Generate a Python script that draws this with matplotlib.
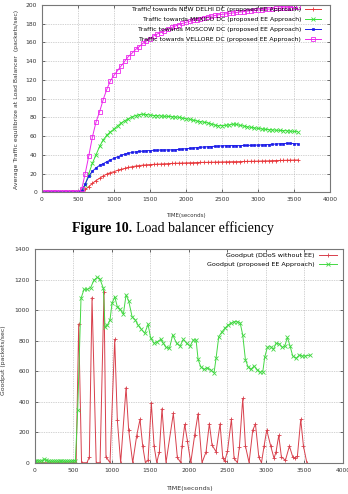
"""Load balancer efficiency (top) and goodput (bottom) over time."""

import numpy as np
from matplotlib import pyplot

# --- top panel: average traffic at the load balancer, sampled every 50 s ---
t_lb = np.arange(0, 3551, 50)
delhi = [0] * 11 + [
    0.5, 3, 6, 9.5, 12.5, 15, 17.5, 19.5, 21, 22,
    23.5, 24.5, 25.5, 26.5, 27.3, 28, 28.5, 29, 29.3, 29.6,
    29.8, 30, 30.2, 30.4, 30.6, 30.8, 31, 31.1, 31.2, 31.4,
    31.5, 31.6, 31.8, 31.9, 32, 32, 32.1, 32.2, 32.3, 32.4,
    32.5, 32.6, 32.7, 32.7, 32.8, 32.9, 33, 33.1, 33.2, 33.3,
    33.4, 33.5, 33.6, 33.8, 33.9, 34, 34.1, 34.2, 34.3, 34.4,
    34.5]
mexico = [0] * 11 + [
    2, 8, 20, 31, 40, 49, 56, 61, 64.5, 67.5,
    71, 74, 76.5, 78.5, 80.5, 82, 83, 83.3, 83, 82.5,
    82, 81.8, 81.5, 81.2, 81, 80.8, 80.5, 80, 79.3, 78.5,
    78, 77, 76.2, 75.5, 74.8, 74.2, 73, 71.8, 71.1, 71.2,
    71.5, 72, 72.8, 72.5, 71.5, 70.8, 70, 69.3, 68.8, 68.2,
    67.7, 67.2, 66.9, 66.6, 66.3, 66.1, 65.9, 65.7, 65.3, 65,
    64.7]
moscow = [0] * 11 + [
    1, 9, 17, 22.5, 26, 28.8, 30.5, 32.7, 34.5, 36.3,
    38, 39.3, 40.8, 41.8, 42.5, 43.2, 43.6, 44, 44.4, 44.6,
    44.8, 45, 45.2, 45.2, 45.3, 45.3, 45.4, 45.8, 46.3, 46.6,
    46.9, 47.4, 47.8, 48.1, 48.4, 48.7, 48.9, 49.1, 49.4, 49.6,
    49.8, 49.8, 49.9, 49.9, 49.8, 50, 50.1, 50.2, 50.4, 50.5,
    50.6, 50.8, 51, 51.3, 51.6, 51.8, 52, 52.3, 52.2, 52,
    51.8]
vellore = [0.5] * 11 + [
    3, 20, 39, 59, 75, 86, 99, 110, 119, 125,
    130, 135, 140, 145, 148.5, 152.5, 155.5, 159, 161.5, 164,
    167, 169, 170.5, 172, 174, 176, 177.5, 179, 180.3, 181.5,
    182.5, 183.5, 184.5, 185.5, 186.5, 187.3, 188, 188.8, 189.5, 190,
    190.5, 191, 191.5, 192, 192.5, 193, 193.5, 194, 194.3, 194.6,
    195, 195.3, 195.6, 196, 196.3, 196.6, 196.8, 197, 197.2, 197.4,
    197.5]

# --- bottom panel: goodput ---
t_ddos = [0, 100, 200, 300, 400, 500, 540, 573, 610, 680, 711, 746, 800,
          850, 901, 927, 979, 1040, 1074, 1117, 1187, 1221, 1273, 1325,
          1368, 1403, 1438, 1472, 1515, 1550, 1585, 1619, 1653, 1705, 1800,
          1852, 1896, 1913, 1948, 1983, 2026, 2077, 2121, 2172, 2224, 2267,
          2302, 2354, 2406, 2441, 2467, 2502, 2553, 2588, 2631, 2657, 2700,
          2735, 2782, 2830, 2865, 2909, 2943, 2977, 3011, 3063, 3106, 3132,
          3167, 3201, 3253, 3305, 3348, 3374, 3409, 3452, 3487, 3531]
gp_ddos = [0, 0, 0, 0, 0, 0, 0, 910, 0, 0, 37, 1083, 0,
           0, 1120, 39, 0, 809, 280, 0, 492, 214, 0, 177,
           284, 109, 0, 15, 391, 111, 0, 72, 354, 0, 323,
           35, 0, 109, 251, 142, 0, 182, 321, 0, 70, 256,
           116, 72, 254, 33, 11, 74, 286, 28, 0, 105, 422,
           109, 0, 214, 254, 35, 0, 111, 214, 109, 28, 72,
           179, 39, 15, 109, 39, 28, 44, 284, 109, 0]

t_ee = [0, 25, 50, 75, 100, 125, 150, 175, 200, 225, 250, 275, 300, 325,
        350, 375, 400, 425, 450, 475, 500, 530, 560, 603, 642, 685, 728,
        771, 815, 850, 893, 914, 945, 979, 1005, 1040, 1074, 1109, 1152,
        1187, 1221, 1265, 1308, 1342, 1386, 1429, 1472, 1507, 1550, 1593,
        1636, 1671, 1705, 1749, 1792, 1843, 1887, 1930, 1973, 2016, 2060,
        2095, 2121, 2155, 2198, 2241, 2285, 2328, 2354, 2389, 2432, 2467,
        2510, 2545, 2588, 2631, 2666, 2700, 2735, 2769, 2804, 2847, 2891,
        2925, 2960, 2986, 3020, 3063, 3098, 3132, 3176, 3210, 3245, 3279,
        3314, 3348, 3392, 3435, 3470, 3513, 3573]
gp_ee = [8, 10, 12, 10, 14, 22, 18, 12, 10, 10, 10, 10, 10, 10,
         10, 10, 10, 10, 10, 10, 10, 12, 345, 1078, 1137, 1137, 1148,
         1198, 1216, 1203, 1144, 892, 903, 936, 1045, 1089, 1023, 1006, 975,
         1100, 1063, 958, 936, 903, 875, 849, 908, 816, 783, 794,
         809, 783, 757, 750, 838, 783, 765, 809, 783, 765, 805,
         805, 678, 630, 612, 623, 608, 590, 685, 827, 860, 881,
         903, 914, 925, 925, 918, 838, 674, 630, 612, 634, 608,
         595, 597, 695, 757, 761, 744, 783, 779, 757, 765, 822,
         765, 700, 685, 706, 700, 700, 706]

W, H = 348, 494
pyplot.rc('font', family='DejaVu Sans', size=4.3)
fig = pyplot.figure(figsize=(W / 100, H / 100), dpi=100)


def style(ax):
    ax.grid(True, linestyle=(0, (1, 1.5)), color='#a8a8a8', linewidth=0.5)
    ax.tick_params(direction='in', top=True, right=True, length=2.5,
                   width=0.5, colors='#333333', pad=3.5)
    for s in ax.spines.values():
        s.set_color('#777777')
        s.set_linewidth(0.8)


# top panel
ax1 = fig.add_axes([42 / W, 1 - 192.3 / H, 288 / W, 187.3 / H])
style(ax1)
ax1.plot(t_lb, delhi, color='#e8383c', marker='+', ms=3.5, mew=0.6, lw=0.7,
         label='Traffic towards NEW DELHI DC (proposed EE Approach)')
ax1.plot(t_lb, mexico, color='#3ade3a', marker='x', ms=2.6, mew=0.6, lw=0.7,
         label='Traffic towards MEXICO DC (proposed EE Approach)')
ax1.plot(t_lb, moscow, color='#1c1ce8', marker='s', ms=1.8, mew=0.5, lw=0.7,
         label='Traffic towards MOSCOW DC (proposed EE Approach)')
ax1.plot(t_lb, vellore, color='#ec28ec', marker='s', ms=3.0, mew=0.6, lw=0.7,
         mfc='none', label='Traffic towards VELLORE DC (proposed EE Approach)')
ax1.set_xlim(0, 4000)
ax1.set_ylim(0, 200)
ax1.set_xticks(range(0, 4001, 500))
ax1.set_yticks(range(0, 201, 20))
ax1.legend(loc='upper right', bbox_to_anchor=(0.968, 0.99), frameon=False,
           markerfirst=False, numpoints=1, fontsize=4.4, handlelength=2.6,
           handletextpad=0.6, labelspacing=0.75, borderpad=0, borderaxespad=0)
fig.text(16.5 / W, 1 - 99 / H,
         'Average Traffic equilibrize at Load Balancer  (packets/sec)',
         rotation=90, ha='center', va='center', fontsize=4.4, color='#333333')
fig.text(186 / W, 1 - 215 / H, 'TIME(seconds)', ha='center', va='center',
         fontsize=4.0, color='#333333')

# caption
fig.text(132 / W, 1 - 228 / H, 'Figure 10.', ha='right', va='center',
         family='Liberation Serif', weight='bold', fontsize=10)
fig.text(135.5 / W, 1 - 228 / H, 'Load balancer efficiency', ha='left',
         va='center', family='Liberation Serif', fontsize=10)

# bottom panel
ax2 = fig.add_axes([34.5 / W, 1 - 462.7 / H, 308.5 / W, 213.4 / H])
style(ax2)
ax2.plot(t_ddos, gp_ddos, color='#d8404c', marker='+', ms=3.5, mew=0.6,
         lw=0.7, label='Goodput (DDoS without EE)')
ax2.plot(t_ee, gp_ee, color='#44d844', marker='x', ms=2.6, mew=0.6, lw=0.7,
         label='Goodput (proposed EE Approach)')
ax2.set_xlim(0, 4000)
ax2.set_ylim(0, 1400)
ax2.set_xticks(range(0, 4001, 500))
ax2.set_yticks(range(0, 1401, 200))
ax2.legend(loc='upper right', bbox_to_anchor=(0.981, 0.985), frameon=False,
           markerfirst=False, numpoints=1, fontsize=4.6, handlelength=2.9,
           handletextpad=0.6, labelspacing=0.6, borderpad=0, borderaxespad=0)
fig.text(4 / W, 1 - 360 / H, 'Goodput (packets/sec)', rotation=90,
         ha='center', va='center', fontsize=4.4, color='#333333')
fig.text(189 / W, 1 - 488 / H, 'TIME(seconds)', ha='center', va='center',
         fontsize=4.6, color='#333333')

fig.savefig('out.png', dpi=100)
